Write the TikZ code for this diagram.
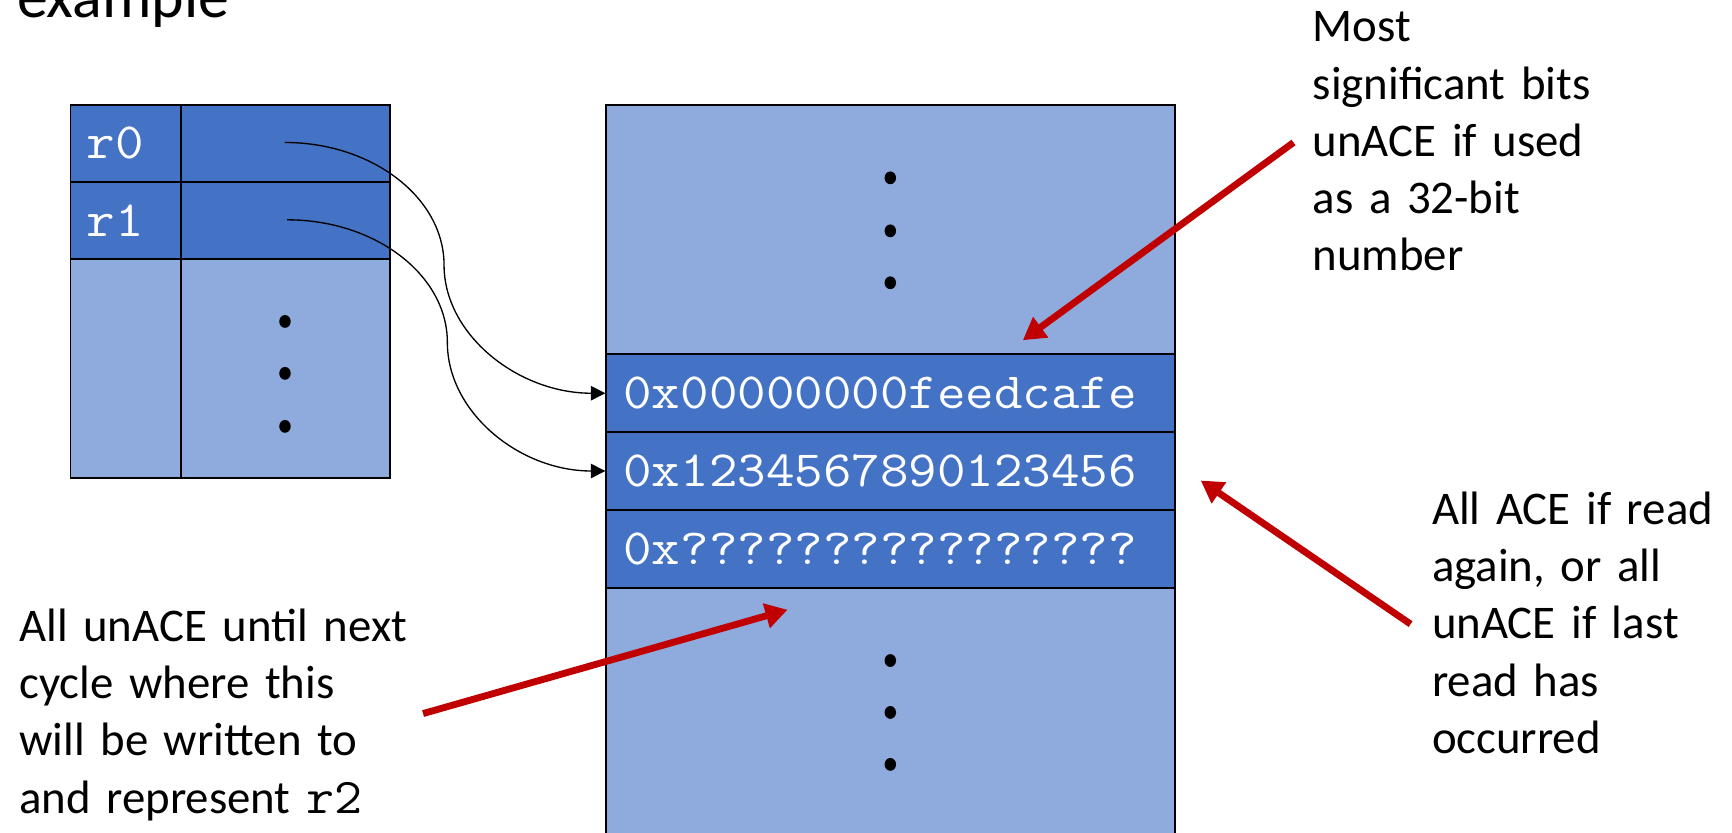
\documentclass[tikz,border=0pt]{standalone}
\usepackage{fontspec}
\setmainfont{Carlito}
\newfontfamily\codefont[FakeStretch=1.09]{Latin Modern Mono}
\usetikzlibrary{arrows.meta}
\definecolor{celldark}{HTML}{4472C4}
\definecolor{celllight}{HTML}{8FAADC}
\definecolor{callred}{HTML}{C00000}
\begin{document}
\begin{tikzpicture}[x=0.5pt,y=-0.5pt,
  cell/.style={draw=black, line width=0.8pt, inner sep=0pt, anchor=north west},
  darkcell/.style={cell, fill=celldark},
  lightcell/.style={cell, fill=celllight},
  codetext/.style={font=\codefont\fontsize{23}{28}\selectfont, text=white, inner sep=0pt, anchor=west},
  note/.style={font=\fontsize{21.2}{25.85}\selectfont, inner sep=0pt, anchor=base west,
               text width=200pt, align=left},
  link/.style={-{Triangle[length=6.5pt,width=6.5pt]}, line width=0.6pt},
  callout/.style={draw=callred, line width=3.1pt, -{Triangle[length=10pt,width=11pt]}}
]
\useasboundingbox (0,0) rectangle (1568,754);
\clip (0,0) rectangle (1568,754);

% slide heading (partly above the frame)
\node[font=\fontsize{28}{34}\selectfont, inner sep=0pt, anchor=base west] (head) at (15,16) {example};

% register file
\node[darkcell, minimum width=50pt, minimum height=35pt] (reg0name) at (63,94) {};
\node[darkcell, minimum width=94.5pt, minimum height=35pt] (reg0val) at (163,94) {};
\node[darkcell, minimum width=50pt, minimum height=35pt] (reg1name) at (63,164) {};
\node[darkcell, minimum width=94.5pt, minimum height=35pt] (reg1val) at (163,164) {};
\node[lightcell, minimum width=50pt, minimum height=99pt] (restname) at (63,234) {};
\node[lightcell, minimum width=94.5pt, minimum height=99pt] (restval) at (163,234) {};
\node[codetext] (r0txt) at ([xshift=7.5pt]reg0name.west) {r0};
\node[codetext] (r1txt) at ([xshift=7.5pt]reg1name.west) {r1};

% memory
\node[lightcell, minimum width=257.5pt, minimum height=113pt] (memtop) at (548,94) {};
\node[darkcell, minimum width=257.5pt, minimum height=35.2pt] (m1) at (548,320) {};
\node[darkcell, minimum width=257.5pt, minimum height=35.2pt] (m2) at (548,390.4) {};
\node[darkcell, minimum width=257.5pt, minimum height=35.2pt] (m3) at (548,460.8) {};
\node[lightcell, minimum width=257.5pt, minimum height=125pt] (membot) at (548,531.2) {};
\node[codetext] (m1txt) at ([xshift=8pt]m1.west) {0x00000000feedcafe};
\node[codetext] (m2txt) at ([xshift=8pt]m2.west) {0x1234567890123456};
\node[codetext] (m3txt) at ([xshift=8pt]m3.west) {0x????????????????};

% vertical ellipses
\foreach \px/\py in {258/291, 258/338, 258/386, 806/161, 806/209, 806/256, 806/598, 806/645, 806/692}
  \fill (\px,\py) ellipse [x radius=2.6pt, y radius=2.9pt];

% register -> memory links
\coordinate (r0src) at (258,129);
\coordinate (r0bend) at (402,240);
\coordinate (r1src) at (260,199);
\coordinate (r1bend) at (405,310);
\draw[link] (r0src) .. controls +(79,0) and +(0,-61) .. (r0bend)
                    .. controls +(0,63) and +(-79,0) .. (m1.west);
\draw[link] (r1src) .. controls +(80,0) and +(0,-61) .. (r1bend)
                    .. controls +(0,63) and +(-78,0) .. (m2.west);

% annotations
\node[note] (msbnote) at (1188,38) {Most\\significant bits\\unACE if used\\as a 32-bit\\number};
\node[note] (acenote) at (1296,475) {All ACE if read\\again, or all\\unACE if last\\read has\\occurred};
\node[note] (unacenote) at (17,581) {All unACE until next\\cycle where this\\will be written to\\and represent {\codefont\fontsize{22.6}{25.85}\selectfont r2}};

\coordinate (msbfrom) at (1171,129);
\coordinate (msbto) at (926,308);
\coordinate (acefrom) at (1277,565);
\coordinate (aceto) at (1087,435);
\coordinate (unacefrom) at (383,646);
\coordinate (unaceto) at (713,552);
\draw[callout] (msbfrom) -- (msbto);
\draw[callout] (acefrom) -- (aceto);
\draw[callout] (unacefrom) -- (unaceto);
\end{tikzpicture}
\end{document}
